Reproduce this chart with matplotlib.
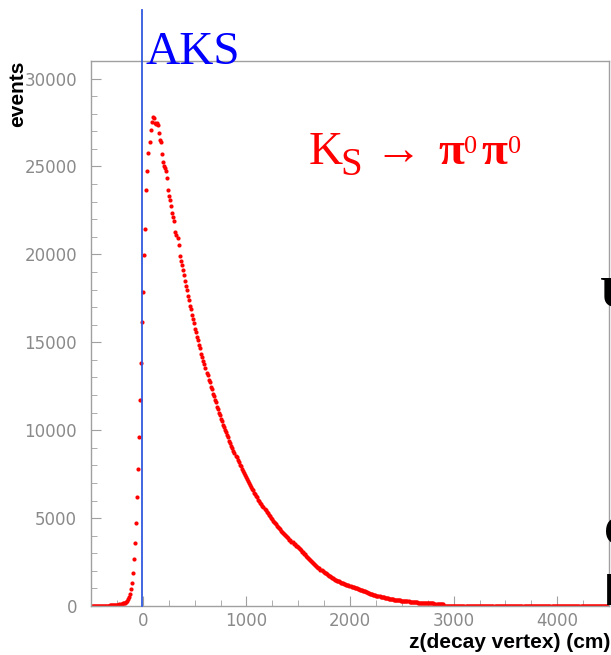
import numpy as np
import matplotlib
matplotlib.use("Agg")
import matplotlib.pyplot as plt
from matplotlib.ticker import MultipleLocator

# K_S -> pi0 pi0 decay vertex distribution, 10 cm bins from -500 to 4500 cm
bin_lo = -500
bin_width = 10
counts = [
    4, 6, 5, 8, 7, 9, 11, 10, 13, 12,
    15, 14, 18, 17, 21, 23, 22, 27, 30, 33,
    45, 50, 55, 60, 66, 72, 80, 90, 105, 125,
    150, 170, 195, 240, 300, 400, 510, 680, 970, 1290,
    1890, 2690, 3560, 4720, 6190, 7820, 9630, 11740, 13810, 16180,
    17880, 19980, 21460, 23640, 24730, 25780, 26400, 27100, 27550, 27840,
    27740, 27490, 27400, 27460, 27360, 26930, 26530, 26380, 25700, 25230,
    25000, 24890, 24770, 24340, 23650, 23300, 23070, 22780, 22370, 22100,
    21890, 21290, 21100, 20910, 20510, 19890, 19600, 19380, 19100, 18820,
    18470, 18200, 17970, 17650, 17420, 17080, 16890, 16580, 16320, 16090,
    15780, 15600, 15290, 15110, 14820, 14650, 14360, 14190, 13920, 13760,
    13540, 13270, 13120, 12860, 12720, 12470, 12330, 12080, 11950, 11700,
    11580, 11340, 11220, 10990, 10870, 10650, 10540, 10320, 10210, 10000,
    9890, 9700, 9590, 9400, 9290, 9110, 9000, 8830, 8720, 8560,
    8450, 8290, 8190, 8030, 7940, 7790, 7700, 7545, 7455, 7310,
    7225, 7085, 7000, 6865, 6785, 6655, 6575, 6450, 6370, 6250,
    6175, 6055, 5985, 5870, 5800, 5690, 5620, 5510, 5445, 5340,
    5280, 5175, 5115, 5015, 4955, 4860, 4805, 4710, 4655, 4565,
    4510, 4420, 4370, 4285, 4235, 4155, 4105, 4025, 3975, 3900,
    3855, 3780, 3735, 3665, 3620, 3550, 3505, 3440, 3398, 3335,
    3285, 3215, 3175, 3095, 3055, 2985, 2935, 2865, 2815, 2745,
    2695, 2625, 2575, 2495, 2445, 2385, 2345, 2280, 2235, 2175,
    2135, 2075, 2035, 1980, 1945, 1890, 1855, 1800, 1765, 1715,
    1685, 1635, 1610, 1565, 1545, 1505, 1485, 1450, 1430, 1395,
    1375, 1335, 1320, 1280, 1265, 1230, 1220, 1185, 1175, 1145,
    1130, 1100, 1085, 1055, 1045, 1015, 1005, 975, 965, 935,
    920, 885, 870, 835, 825, 790, 775, 740, 725, 695,
    685, 655, 650, 620, 615, 590, 585, 560, 555, 530,
    525, 500, 495, 470, 465, 440, 437, 415, 412, 390,
    388, 372, 368, 351, 348, 333, 332, 318, 316, 302,
    300, 286, 284, 270, 268, 256, 256, 244, 244, 232,
    232, 220, 220, 208, 208, 197, 198, 187, 188, 177,
    178, 170, 170, 162, 162, 155, 156, 149, 150, 143,
    144, 137, 138, 131, 132, 125, 126, 119, 116, 104,
    0, 0, 0, 0, 0, 0, 0, 0, 0, 0, 0, 0, 0, 0, 0, 0, 0, 0, 0, 0,
    0, 0, 0, 0, 0, 0, 0, 0, 0, 0, 0, 0, 0, 0, 0, 0, 0, 0, 0, 0,
    0, 0, 0, 0, 0, 0, 0, 0, 0, 0, 0, 0, 0, 0, 0, 0, 0, 0, 0, 0,
    0, 0, 0, 0, 0, 0, 0, 0, 0, 0, 0, 0, 0, 0, 0, 0, 0, 0, 0, 0,
    0, 0, 0, 0, 0, 0, 0, 0, 0, 0, 0, 0, 0, 0, 0, 0, 0, 0, 0, 0,
    0, 0, 0, 0, 0, 0, 0, 0, 0, 0, 0, 0, 0, 0, 0, 0, 0, 0, 0, 0,
    0, 0, 0, 0, 0, 0, 0, 0, 0, 0, 0, 0, 0, 0, 0, 0, 0, 0, 0, 0,
    0, 0, 0, 0, 0, 0, 0, 0, 0, 0, 0, 0, 0, 0, 0, 0, 0, 0, 0, 0,
]
aks_z = -12  # position of the AKS counter (cm)

counts = np.array(counts)
centers = bin_lo + bin_width * (np.arange(len(counts)) + 0.5)

W, H = 611, 655
fig = plt.figure(figsize=(W / 100, H / 100), dpi=100)
ax = fig.add_axes([91 / W, 1 - 606 / H, 518 / W, 545 / H])


def px(x, y):
    # pixel position -> figure fraction
    return x / W, 1 - y / H


ax.plot(centers, counts, "o", color="#ff0000", ms=3.0, mew=0, zorder=2)

ax.set_xlim(-500, 4500)
ax.set_ylim(0, 31000)

grey = "#a0a0a0"
for s in ax.spines.values():
    s.set_color(grey)
    s.set_linewidth(1.0)
    s.set_zorder(3)

ax.xaxis.set_major_locator(MultipleLocator(1000))
ax.xaxis.set_minor_locator(MultipleLocator(250))
ax.yaxis.set_major_locator(MultipleLocator(5000))
ax.yaxis.set_minor_locator(MultipleLocator(1000))
ax.tick_params(which="both", direction="in", color=grey, labelcolor="#8a8a8a",
               labelsize=12, top=False, right=False)
ax.tick_params(axis="x", which="major", length=7, pad=4)
ax.tick_params(axis="x", which="minor", length=4)
ax.tick_params(axis="y", which="major", length=7.5, pad=10)
ax.tick_params(axis="y", which="minor", length=4)

# AKS marker line sticks out above the frame
ax.axvline(aks_z, ymin=0, ymax=(606 - 10) / 545, color="#3158e0", lw=1.3,
           clip_on=False, zorder=4)

fig.text(*px(18, 61), "events", rotation=90, ha="center", va="top",
         fontsize=15, fontweight="bold", family="Liberation Sans")
fig.text(*px(610, 642), "z(decay vertex) (cm)", ha="right", va="center",
         fontsize=15, fontweight="bold", family="Liberation Sans")

serif = ["Liberation Serif", "DejaVu Serif"]
fig.text(*px(145, 64), "AKS", color="#0000ff", fontsize=34, family=serif,
         va="baseline")

red = "#ff0000"
fig.text(*px(309, 164), "K", color=red, fontsize=34, family=serif, va="baseline")
fig.text(*px(340, 175), "S", color=red, fontsize=28, family=serif, va="baseline")
fig.text(*px(374, 164), "\u2192", color=red, fontsize=34, family=serif, va="baseline")
fig.text(*px(438, 164), "\u03c0", color=red, fontsize=34, family=serif,
         fontweight="bold", va="baseline")
fig.text(*px(464, 153), "0", color=red, fontsize=19, family=serif, va="baseline")
fig.text(*px(481, 164), "\u03c0", color=red, fontsize=34, family=serif,
         fontweight="bold", va="baseline")
fig.text(*px(508, 153), "0", color=red, fontsize=19, family=serif, va="baseline")

# slide text cut off at the right edge
fig.text(*px(600, 307), "U", fontsize=32, family=serif, fontweight="bold",
         va="baseline")
fig.text(*px(604, 545), "C", fontsize=30, family=serif, fontweight="bold",
         va="baseline")
fig.text(*px(603, 605), "I", fontsize=32, family="Liberation Sans", va="baseline")

fig.savefig("out.png", dpi=100)
